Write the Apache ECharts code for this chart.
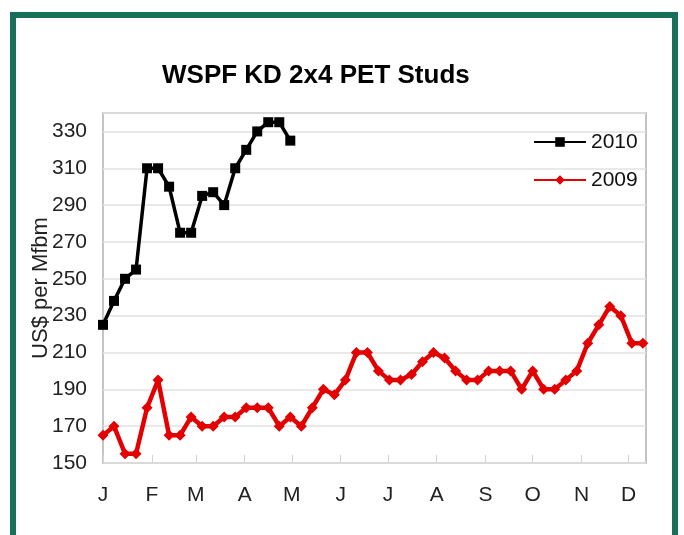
<!DOCTYPE html>
<html>
<head>
<meta charset="utf-8">
<style>
  html, body { margin: 0; padding: 0; background: #fff; }
  #chart { width: 684px; height: 535px; }
</style>
<script src="https://cdn.jsdelivr.net/npm/echarts@6/dist/echarts.min.js"></script>
</head>
<body>
<div id="chart"></div>
<script>
// weekly prices, US$ per Mfbm, first week starts Jan 1
var prices2010 = [225, 238, 250, 255, 310, 310, 300, 275, 275, 295, 297, 290, 310, 320, 330, 335, 335, 325];
var prices2009 = [165, 170, 155, 155, 180, 195, 165, 165, 175, 170,
                  170, 175, 175, 180, 180, 180, 170, 175, 170, 180,
                  190, 187, 195, 210, 210, 200, 195, 195, 198, 205,
                  210, 207, 200, 195, 195, 200, 200, 200, 190, 200,
                  190, 190, 195, 200, 215, 225, 235, 230, 215, 215];
// month start as day of year, and its label
var monthStarts = [0, 31, 59, 90, 120, 151, 181, 212, 243, 273, 304, 334];
var monthLabels = ["J", "F", "M", "A", "M", "J", "J", "A", "S", "O", "N", "D"];
var yTicks = [150, 170, 190, 210, 230, 250, 270, 290, 310, 330];

function toWeekly(list) {
  // week i is plotted at day i*7
  return list.map(function (v, i) { return [i * 7, v]; });
}

var font = "'Liberation Sans', Arial, sans-serif";
var myEchart = echarts.init(document.getElementById("chart"));
var option = {
  animation: false,
  title: {
    text: "WSPF KD 2x4 PET Studs",
    left: 162,
    top: 63,
    padding: 0,
    textStyle: { fontFamily: font, fontSize: 26, fontWeight: "bold", color: "#000" }
  },
  legend: {
    orient: "vertical",
    left: 533,
    top: 131,
    padding: 0,
    itemWidth: 52,
    itemHeight: 12,
    itemGap: 16,
    textStyle: { fontFamily: font, fontSize: 21, color: "#111", lineHeight: 22 },
    data: ["2010", "2009"]
  },
  grid: {
    left: 103,
    right: 38,
    top: 113,
    bottom: 72,
    show: true,
    borderColor: "#c4c4c4",
    borderWidth: 2
  },
  xAxis: {
    type: "value",
    min: 0,
    max: 345,
    axisLine: { show: false },
    splitLine: { show: false },
    axisTick: {
      show: true,
      inside: true,
      length: 8,
      customValues: monthStarts,
      lineStyle: { color: "#d4d4d4" }
    },
    axisLabel: {
      customValues: monthStarts,
      margin: 22,
      fontFamily: font,
      fontSize: 21,
      color: "#222",
      formatter: function (v) {
        var k = monthStarts.indexOf(v);
        return k >= 0 ? monthLabels[k] : "";
      }
    }
  },
  yAxis: {
    type: "value",
    min: 150,
    max: 340,
    interval: 20,
    name: "US$ per Mfbm",
    nameLocation: "middle",
    nameGap: 51,
    nameMoveOverlap: false,
    nameTextStyle: { fontFamily: font, fontSize: 22, color: "#222" },
    axisLine: { show: false },
    axisTick: { show: false },
    splitLine: { lineStyle: { color: "#e2e2e2", width: 1.5 } },
    axisLabel: {
      customValues: yTicks,
      margin: 16,
      fontFamily: font,
      fontSize: 21,
      color: "#222"
    }
  },
  series: [
    {
      name: "2010",
      type: "line",
      data: toWeekly(prices2010),
      symbol: "rect",
      symbolSize: 10,
      itemStyle: { color: "#000" },
      lineStyle: { color: "#000", width: 3.5 },
      z: 3
    },
    {
      name: "2009",
      type: "line",
      data: toWeekly(prices2009),
      symbol: "diamond",
      symbolSize: 11,
      itemStyle: { color: "#e30000" },
      lineStyle: { color: "#e30000", width: 4.5 },
      z: 2
    }
  ],
  graphic: [
    {
      type: "rect",
      silent: true,
      shape: { x: 13, y: 15, width: 662, height: 600 },
      style: { fill: null, stroke: "#17705a", lineWidth: 6 }
    }
  ]
};
myEchart.setOption(option);
</script>
</body>
</html>
